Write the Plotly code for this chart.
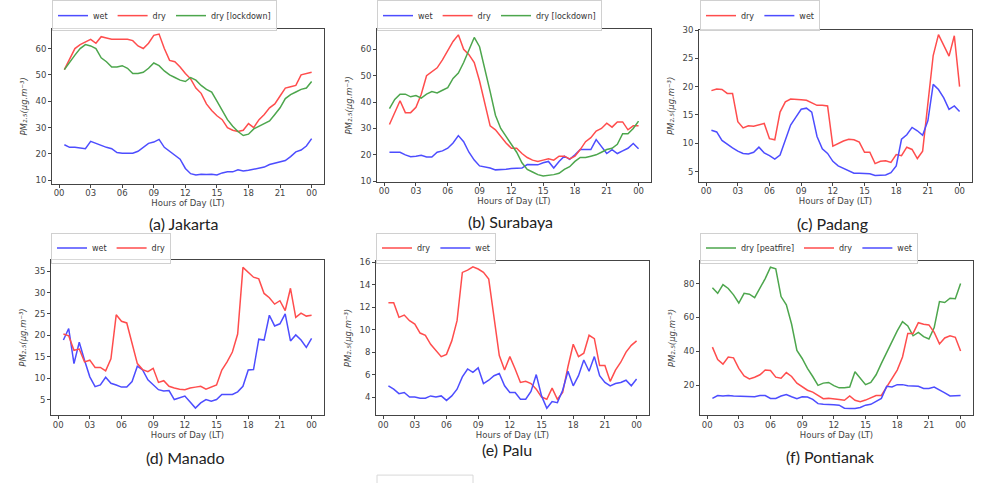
import plotly.graph_objects as go

# ---------------- data (48 half-hourly values, 00:30 .. 24:00) ----------------
hours = [0.5 * (i + 1) for i in range(48)]
tick_vals = [0, 3, 6, 9, 12, 15, 18, 21, 24]
tick_text = ["00", "03", "06", "09", "12", "15", "18", "21", "00"]

jakarta_wet = [23.5, 22.5, 22.5, 22.3, 22.0, 24.8, 24.0, 23.0, 22.5, 22.0, 20.5, 20.3,
               20.3, 20.3, 21.0, 22.5, 24.0, 24.5, 25.5, 22.5, 21.0, 19.5, 18.0, 14.5,
               12.5, 12.0, 12.3, 12.2, 12.3, 12.0, 12.8, 13.2, 13.2, 14.0, 13.5, 13.8,
               14.2, 14.5, 15.0, 16.0, 16.5, 17.2, 17.5, 19.0, 20.8, 21.5, 23.0, 25.8]
jakarta_dry = [52.0, 56.0, 60.0, 61.5, 62.5, 63.5, 62.0, 64.5, 64.0, 63.5, 63.5, 63.5,
               63.5, 63.0, 61.0, 60.0, 62.0, 65.0, 65.5, 60.0, 55.5, 55.0, 53.0, 50.5,
               48.5, 45.0, 43.0, 39.0, 36.5, 34.5, 33.0, 30.0, 29.0, 28.5, 29.0, 31.5,
               30.0, 33.0, 35.0, 37.5, 39.0, 42.0, 45.0, 45.5, 46.0, 50.0, 50.5, 51.0]
jakarta_lock = [52.0, 55.0, 57.5, 60.0, 61.5, 61.0, 60.0, 56.5, 55.0, 53.0, 53.0, 53.5,
                52.5, 50.5, 50.5, 51.0, 52.5, 54.5, 53.5, 51.5, 50.0, 49.0, 48.0, 47.5,
                49.0, 48.0, 46.0, 44.5, 43.5, 40.0, 36.5, 33.0, 30.5, 28.5, 27.0, 27.5,
                29.5, 30.5, 31.5, 32.5, 35.0, 37.5, 41.0, 42.5, 43.5, 44.5, 45.0, 47.5]

surabaya_wet = [21.0, 21.0, 21.0, 20.0, 19.3, 19.5, 19.8, 19.2, 19.2, 21.0, 21.5, 22.5,
                24.5, 27.3, 25.0, 21.0, 18.0, 15.8, 15.5, 15.0, 14.3, 14.3, 14.5, 14.8,
                15.0, 15.0, 16.3, 16.2, 16.2, 17.0, 17.5, 15.0, 17.5, 19.5, 18.3, 20.0,
                22.0, 22.0, 22.0, 25.8, 23.0, 20.5, 22.0, 20.5, 21.5, 22.5, 24.3, 22.3]
surabaya_dry = [31.5, 36.0, 40.5, 36.0, 36.0, 38.0, 43.0, 50.0, 51.5, 53.0, 56.0, 59.5,
                63.0, 65.5, 60.0, 58.0, 55.0, 48.0, 40.0, 31.0, 29.5, 27.0, 24.5, 22.5,
                22.5, 20.5, 19.0, 18.0, 17.5, 18.0, 18.5, 18.0, 19.5, 19.5, 18.5, 19.5,
                22.0, 25.0, 26.5, 29.0, 30.0, 32.0, 30.5, 32.5, 32.5, 29.5, 31.0, 31.0]
surabaya_lock = [37.5, 41.0, 43.0, 43.0, 42.0, 42.5, 41.5, 43.0, 44.0, 43.5, 44.5, 45.5,
                 49.0, 51.0, 55.0, 60.0, 64.5, 61.0, 53.0, 44.0, 35.0, 30.0, 27.0, 24.0,
                 21.0, 17.0, 14.5, 13.5, 12.5, 12.0, 12.2, 12.5, 13.0, 14.5, 15.5, 17.5,
                 19.0, 19.0, 19.5, 20.0, 21.0, 22.0, 22.5, 24.0, 28.0, 28.0, 30.0, 32.8]

padang_dry = [19.3, 19.6, 19.5, 18.8, 18.8, 13.8, 12.7, 13.1, 13.0, 13.2, 13.5, 10.8,
              10.6, 15.5, 17.3, 17.8, 17.8, 17.7, 17.6, 17.1, 16.7, 16.7, 16.6, 9.5,
              10.0, 10.4, 10.7, 10.6, 10.2, 8.4, 8.4, 6.4, 6.8, 6.9, 6.6, 8.0,
              7.8, 9.3, 8.9, 7.3, 8.6, 17.0, 25.5, 29.2, 27.3, 25.4, 29.0, 20.0]
padang_wet = [12.3, 12.0, 10.5, 9.8, 9.2, 8.6, 8.2, 8.1, 8.4, 9.3, 8.3, 7.8,
              7.2, 7.9, 10.5, 13.2, 14.6, 16.0, 16.2, 15.5, 11.2, 9.0, 8.2, 6.8,
              6.0, 5.6, 5.2, 4.7, 4.7, 4.6, 4.6, 4.3, 4.3, 4.4, 4.8, 6.0,
              10.7, 11.5, 12.8, 12.2, 11.4, 14.0, 20.4, 19.5, 18.0, 16.0, 16.6, 15.6]

manado_wet = [18.9, 21.6, 13.4, 18.4, 14.2, 10.3, 8.0, 8.4, 10.2, 8.8, 8.4, 7.9,
              7.9, 9.2, 12.8, 11.9, 9.6, 8.4, 7.3, 7.0, 7.1, 5.0, 5.4, 5.8,
              4.4, 3.0, 4.2, 5.0, 4.6, 5.0, 6.2, 6.2, 6.2, 6.8, 8.1, 11.9,
              12.0, 19.1, 18.9, 24.7, 22.2, 22.7, 25.0, 18.7, 20.1, 18.9, 17.2, 19.3]
manado_dry = [20.3, 19.9, 16.5, 16.8, 13.8, 14.2, 12.5, 12.5, 11.7, 14.5, 24.8, 23.3,
              22.9, 18.0, 13.4, 12.0, 11.5, 12.3, 9.0, 9.4, 8.1, 7.7, 7.4, 7.3,
              7.7, 7.9, 8.1, 7.4, 7.9, 8.4, 11.9, 13.8, 16.1, 20.3, 35.9, 34.8,
              33.6, 33.2, 29.8, 28.8, 27.3, 28.1, 25.8, 31.0, 24.2, 25.2, 24.5, 24.7]

palu_dry = [12.4, 12.4, 11.1, 11.3, 10.8, 10.5, 9.7, 9.5, 8.7, 8.1, 7.6, 7.8,
            9.0, 10.8, 15.1, 15.3, 15.6, 15.4, 15.1, 14.5, 10.9, 7.7, 6.4, 7.6,
            6.5, 5.3, 5.4, 5.2, 4.7, 4.0, 3.8, 4.8, 3.8, 4.4, 6.7, 8.7,
            7.6, 7.9, 9.5, 9.2, 6.8, 6.8, 5.4, 6.4, 7.1, 8.0, 8.6, 9.0]
palu_wet = [5.0, 4.7, 4.3, 4.4, 4.0, 4.0, 3.9, 3.9, 4.1, 4.0, 4.1, 3.7,
            4.1, 4.7, 5.8, 6.5, 6.2, 6.6, 5.2, 5.5, 5.9, 6.1, 5.0, 4.4,
            4.4, 3.8, 3.8, 4.5, 6.0, 4.1, 3.0, 3.6, 3.5, 4.6, 6.3, 5.0,
            5.9, 7.3, 6.3, 7.6, 5.9, 5.3, 5.0, 5.2, 5.3, 5.5, 5.0, 5.6]

pontianak_peat = [77.5, 74.2, 79.4, 77.1, 73.3, 68.5, 74.2, 73.7, 71.7, 77.1, 82.9, 89.6,
                  88.7, 72.3, 67.5, 56.0, 40.6, 35.8, 30.0, 25.2, 20.0, 21.3, 21.7, 19.8,
                  18.5, 18.5, 19.0, 28.0, 24.2, 20.4, 21.7, 26.2, 32.9, 39.6, 46.3, 52.1,
                  57.5, 55.0, 49.2, 51.2, 48.7, 47.3, 54.0, 69.4, 68.8, 71.3, 71.0, 80.0]
pontianak_dry = [42.5, 35.2, 32.5, 36.7, 36.2, 30.0, 25.6, 23.8, 24.8, 26.2, 29.0, 28.7,
                 24.8, 24.2, 27.5, 25.2, 21.3, 19.4, 17.1, 16.0, 14.0, 12.1, 12.3, 12.1,
                 11.7, 11.2, 13.7, 11.2, 10.4, 11.3, 12.7, 14.0, 14.0, 19.0, 23.3, 29.0,
                 36.7, 50.6, 50.6, 56.9, 56.0, 55.6, 51.2, 44.4, 47.9, 49.2, 48.3, 40.2]
pontianak_wet = [12.3, 14.0, 13.7, 14.0, 13.7, 13.7, 13.7, 13.3, 13.3, 14.0, 14.0, 12.3,
                 12.3, 13.7, 14.6, 13.3, 12.1, 13.3, 13.1, 11.7, 9.2, 8.8, 8.8, 8.5,
                 8.3, 6.5, 6.3, 6.3, 6.9, 8.3, 8.8, 10.8, 12.3, 19.4, 19.0, 20.4,
                 20.4, 19.8, 19.4, 19.4, 18.1, 18.1, 19.0, 17.5, 15.6, 13.7, 13.7, 14.0]

captions = ["(a) Jakarta", "(b) Surabaya", "(c) Padang",
            "(d) Manado", "(e) Palu", "(f) Pontianak"]

# ---------------- styling ----------------
W, H = 992, 483
BLUE = "rgb(77,77,255)"
RED = "rgb(255,77,77)"
GREEN = "rgb(77,166,77)"
FONT = "DejaVu Sans"

def px(x0, x1):
    return [x0 / W, x1 / W]

def py(top, bottom):
    return [1 - bottom / H, 1 - top / H]

panels = [
    dict(xd=px(52, 324), yd=py(23, 182), yr=[8.5, 67.6], yt=[10, 20, 30, 40, 50, 60],
         series=[("wet", jakarta_wet, BLUE), ("dry", jakarta_dry, RED),
                 ("dry [lockdown]", jakarta_lock, GREEN)],
         leg=(52, -6, "top"), cap=(184, 222)),
    dict(xd=px(377, 651), yd=py(23, 180), yr=[9.6, 67.9], yt=[10, 20, 30, 40, 50, 60],
         series=[("wet", surabaya_wet, BLUE), ("dry", surabaya_dry, RED),
                 ("dry [lockdown]", surabaya_lock, GREEN)],
         leg=(377, -6, "top"), cap=(510, 220)),
    dict(xd=px(699, 972), yd=py(24, 180), yr=[3.1, 30.1], yt=[5, 10, 15, 20, 25, 30],
         series=[("dry", padang_dry, RED), ("wet", padang_wet, BLUE)],
         leg=(700, -6, "top"), cap=(832, 222)),
    dict(xd=px(51, 324), yd=py(259, 418), yr=[1.3, 37.7], yt=[5, 10, 15, 20, 25, 30, 35],
         series=[("wet", manado_wet, BLUE), ("dry", manado_dry, RED)],
         leg=(51, 263, "bottom"), cap=(185, 461)),
    dict(xd=px(376, 649), yd=py(260, 418), yr=[2.37, 16.15], yt=[4, 6, 8, 10, 12, 14, 16],
         series=[("dry", palu_dry, RED), ("wet", palu_wet, BLUE)],
         leg=(376, 263, "bottom"), cap=(507, 453)),
    dict(xd=px(700, 973), yd=py(260, 418), yr=[2.3, 93.5], yt=[20, 40, 60, 80],
         series=[("dry [peatfire]", pontianak_peat, GREEN), ("dry", pontianak_dry, RED),
                 ("wet", pontianak_wet, BLUE)],
         leg=(700, 263, "bottom"), cap=(830, 460)),
]

fig = go.Figure()
layout = dict(width=W, height=H, margin=dict(l=0, r=0, t=0, b=0),
              paper_bgcolor="white", plot_bgcolor="white", showlegend=True,
              font=dict(family=FONT, color="#444", size=9))
annotations = []
ytitle = "PM₂.₅(μg.m⁻³)"

for k, p in enumerate(panels):
    n = k + 1
    sfx = "" if n == 1 else str(n)
    legname = "legend" if n == 1 else f"legend{n}"
    for name, vals, col in p["series"]:
        fig.add_trace(go.Scatter(
            x=hours, y=vals, mode="lines", name=name,
            line=dict(color=col, width=1.5),
            xaxis="x" + sfx, yaxis="y" + sfx, legend=legname))
    layout["xaxis" + sfx] = dict(
        domain=p["xd"], anchor="y" + sfx, range=[-0.675, 25.175],
        tickvals=tick_vals, ticktext=tick_text, ticks="outside", ticklen=3,
        tickcolor="#444", showline=True, linecolor="#444", linewidth=1, mirror=True,
        showgrid=False, zeroline=False, tickfont=dict(size=8.5, color="#444"),
        ticklabelstandoff=-2,
        title=dict(text="Hours of Day (LT)", font=dict(size=8.5, color="#444"), standoff=0))
    layout["yaxis" + sfx] = dict(
        domain=p["yd"], anchor="x" + sfx, range=p["yr"], tickvals=p["yt"],
        ticks="outside", ticklen=3, tickcolor="#444", showline=True, linecolor="#444",
        linewidth=1, mirror=True, showgrid=False, zeroline=False,
        tickfont=dict(size=8.5, color="#444"),
        title=dict(text=ytitle, font=dict(size=8.5, color="#444", style="italic"),
                   standoff=6))
    lx, ly, anc = p["leg"]
    layout[legname] = dict(
        orientation="h", x=lx / W, y=1 - ly / H, xanchor="left", yanchor=anc,
        bgcolor="rgba(255,255,255,0.8)", bordercolor="#d0d0d0", borderwidth=1,
        font=dict(size=8, color="#333"), itemwidth=30, tracegroupgap=0)
    cx, cy = p["cap"]
    annotations.append(dict(
        text=captions[k], x=cx / W, y=1 - cy / H, xref="paper", yref="paper",
        xanchor="center", yanchor="middle", showarrow=False,
        font=dict(family="Lato", size=16, color="#222")))

layout["annotations"] = annotations
layout["shapes"] = [dict(type="rect", xref="paper", yref="paper",
                         x0=377 / W, x1=473 / W, y0=-0.02, y1=1 - 479 / H,
                         line=dict(color="#d8d8d8", width=1), fillcolor="white")]
fig.update_layout(**layout)
fig.write_html("out.html",
               config={"displayModeBar": False},
               post_script="document.body.style.margin='0px';"
                           "document.body.style.overflow='hidden';")
